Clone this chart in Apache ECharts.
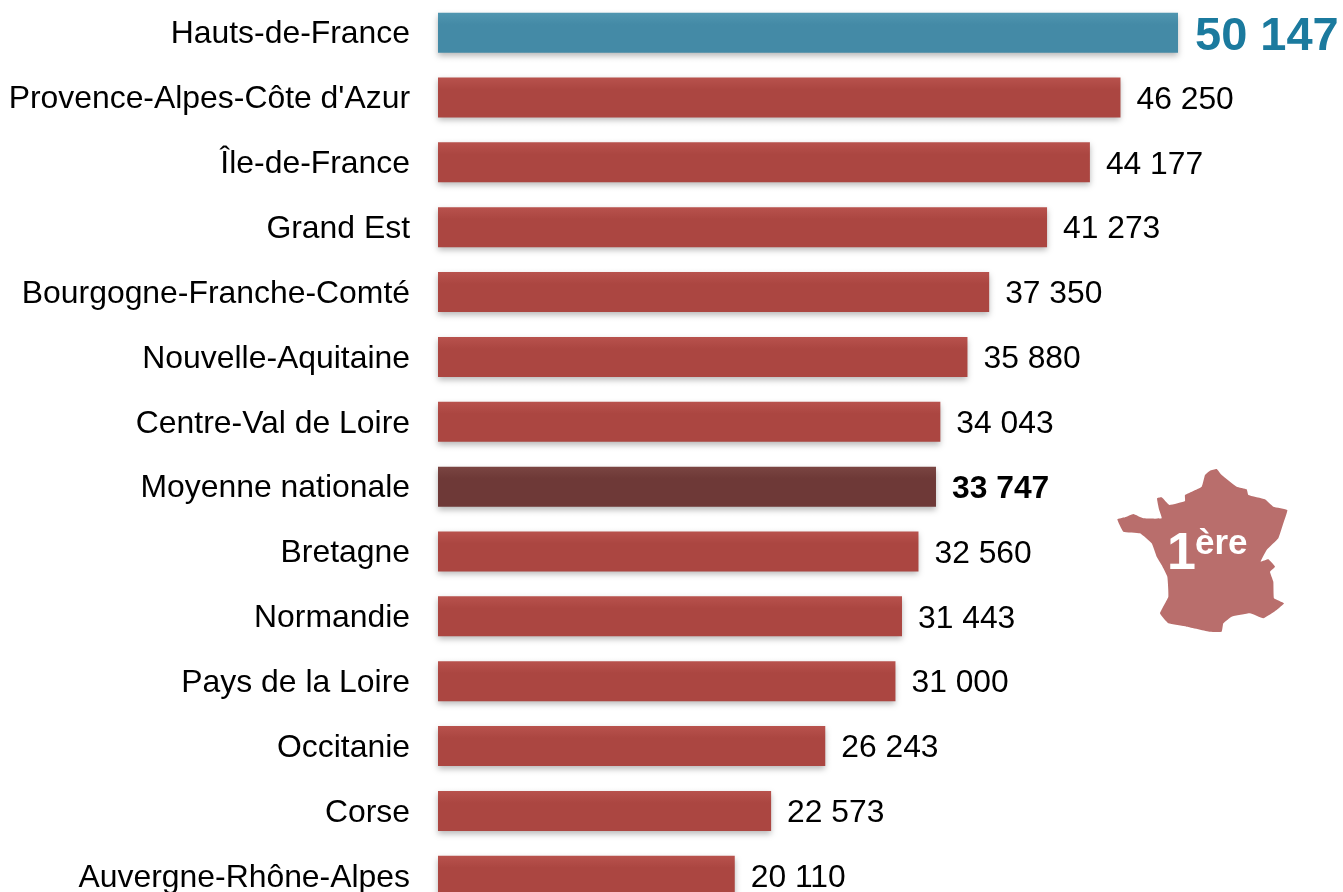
<!DOCTYPE html>
<html><head><meta charset="utf-8">
<style>html,body{margin:0;padding:0;background:#fff;overflow:hidden;width:1343px;height:892px}#c{width:1343px;height:910px}</style>
<script src="https://cdn.jsdelivr.net/npm/echarts@6/dist/echarts.min.js"></script>
</head><body><div id="c"></div>
<script>
const categories = ["Hauts-de-France","Provence-Alpes-Côte d'Azur","Île-de-France","Grand Est","Bourgogne-Franche-Comté","Nouvelle-Aquitaine","Centre-Val de Loire","Moyenne nationale","Bretagne","Normandie","Pays de la Loire","Occitanie","Corse","Auvergne-Rhône-Alpes"];
const values = [50147,46250,44177,41273,37350,35880,34043,33747,32560,31443,31000,26243,22573,20110];
const highlightIndex = 0;
const averageIndex = 7;
const franceOutline = [[82,208],[105,202],[130,192],[160,205],[215,205],[207,178],[201,145],[215,142],[238,165],[285,153],[285,135],[335,110],[345,75],[360,62],[380,57],[395,75],[440,110],[470,118],[475,135],[525,148],[550,170],[592,180],[580,220],[565,265],[530,300],[512,335],[535,328],[555,350],[540,365],[550,395],[552,445],[582,460],[560,480],[520,505],[480,490],[425,500],[400,520],[395,545],[360,545],[290,530],[235,520],[210,490],[235,440],[232,380],[215,345],[200,320],[185,280],[150,250],[100,245]];

const fmt = v => String(v).replace(/\B(?=(\d{3})+$)/g, ' ');
const grad = (a, b) => new echarts.graphic.LinearGradient(0,0,0,1,[{offset:0,color:a},{offset:0.3,color:b},{offset:1,color:b}]);
const font = '"Liberation Sans", Arial, sans-serif';
const chart = echarts.init(document.getElementById('c'), null, {renderer:'canvas'});
chart.setOption({
  animation:false,
  backgroundColor:'#fff',
  grid:{left:438,top:0.2,width:885.4,height:908},
  xAxis:{type:'value',min:0,max:60000,show:false},
  yAxis:{type:'category',inverse:true,data:categories,
    axisLine:{show:false},axisTick:{show:false},
    axisLabel:{margin:28,interval:0,align:'right',
      formatter:name=>'{a|'+name+'}',
      rich:{a:{fontFamily:font,fontSize:31.9,color:'#000',lineHeight:36,padding:[4,0,0,0]}}}},
  series:[{type:'bar',barWidth:40,
    data:values.map((v,i)=>{
      const isHi=i===highlightIndex, isAvg=i===averageIndex;
      return {value:v,
        itemStyle:{color:isHi?grad('#5096b0','#448aa6'):isAvg?grad('#7a4542','#6e3937'):grad('#b8524d','#ab4641'),
          shadowColor:'rgba(0,0,0,0.28)',shadowBlur:6,shadowOffsetY:3,shadowOffsetX:0},
        label:{show:true,position:'right',distance:isHi?17:16,fontFamily:font,
          offset:[0,isHi?4:2.5],
          formatter:()=>fmt(v),
          color:isHi?'#1b7a9e':'#000',
          fontWeight:(isHi||isAvg)?'bold':'normal',
          fontSize:isHi?47:31.8}};
    })}],
  graphic:[
    {type:'polygon',z:10,shape:{points:franceOutline.map(p=>[1090+p[0]/3,450+p[1]/3]),smooth:0.1},style:{fill:'#b96e6c'}},
    {type:'text',z:11,left:1167,top:529,style:{text:'1',fill:'#fff',font:'bold 52px '+font}},
    {type:'text',z:11,left:1195,top:527,style:{text:'ère',fill:'#fff',font:'bold 35px '+font}}
  ]
});
</script></body></html>
